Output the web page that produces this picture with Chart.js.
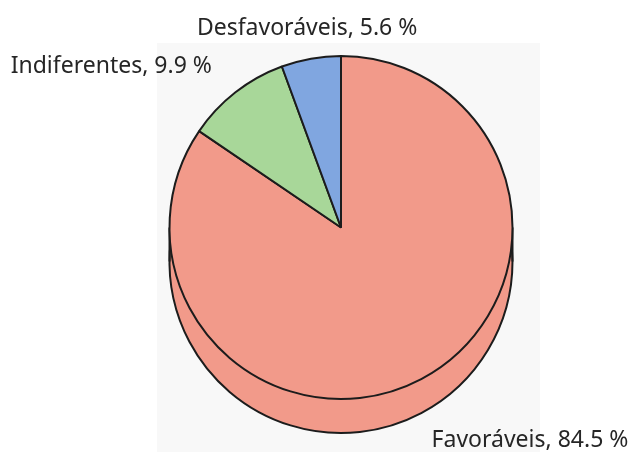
<!DOCTYPE html>
<html>
<head>
<meta charset="utf-8">
<script src="https://cdn.jsdelivr.net/npm/chart.js@4/dist/chart.umd.min.js"></script>
<style>
  html, body { margin: 0; padding: 0; background: #ffffff; }
  #wrap { width: 639px; height: 452px; position: relative; }
</style>
</head>
<body>
<div id="wrap"><canvas id="chart" width="639" height="452"></canvas></div>
<script>
// Opinion breakdown (percent of responses)
const categories = ['Favoráveis', 'Indiferentes', 'Desfavoráveis'];
const percentages = [84.5, 9.9, 5.6];
const sliceColors = ['#F29A8A', '#A8D799', '#80A6E0'];

const EDGE = '#1c1c1c';
const DEPTH = 34;          // thickness of the pie disc
const LABEL_GAP = 22;      // distance of labels from the rim
const LABEL_FONT = '23px "Noto Sans", sans-serif';

function fmt(v) { return v.toFixed(1) + ' %'; }

// light panel behind the plot
const panel = {
  id: 'panel',
  beforeDraw(chart) {
    const ctx = chart.ctx;
    ctx.save();
    ctx.fillStyle = '#ffffff';
    ctx.fillRect(0, 0, chart.width, chart.height);
    ctx.fillStyle = '#f8f8f8';
    ctx.fillRect(157, 43, 383, chart.height - 43);
    ctx.restore();
  }
};

// draws the side of the disc beneath the slices
const pieDepth = {
  id: 'pieDepth',
  beforeDatasetsDraw(chart) {
    const arcs = chart.getDatasetMeta(0).data;
    if (!arcs.length) return;
    const { x: cx, y: cy, outerRadius: r } = arcs[0];
    const ctx = chart.ctx;
    const norm = a => { const t = 2 * Math.PI; return ((a % t) + t) % t; };
    const covering = ang => arcs.find(a => {
      const s = norm(a.startAngle), span = a.endAngle - a.startAngle;
      return norm(ang - s) <= span;
    }) || arcs[0];

    ctx.save();
    // band between the two rims, filled per side
    ctx.fillStyle = covering(Math.PI).options.backgroundColor;
    ctx.fillRect(cx - r, cy, r, DEPTH);
    ctx.fillStyle = covering(0).options.backgroundColor;
    ctx.fillRect(cx, cy, r, DEPTH);
    // lower rim
    ctx.translate(0, DEPTH);
    arcs.forEach(a => a.draw(ctx));
    ctx.restore();

    ctx.save();
    ctx.strokeStyle = EDGE;
    ctx.lineWidth = 2;
    ctx.beginPath();
    ctx.moveTo(cx - r, cy); ctx.lineTo(cx - r, cy + DEPTH);
    ctx.moveTo(cx + r, cy); ctx.lineTo(cx + r, cy + DEPTH);
    ctx.stroke();
    ctx.restore();
  }
};

// "Category, value %" labels placed outside each slice
const sliceLabels = {
  id: 'sliceLabels',
  afterDatasetsDraw(chart) {
    const arcs = chart.getDatasetMeta(0).data;
    const ctx = chart.ctx;
    ctx.save();
    ctx.font = LABEL_FONT;
    ctx.fillStyle = '#262626';
    arcs.forEach((a, i) => {
      const mid = (a.startAngle + a.endAngle) / 2;
      const dist = a.outerRadius + LABEL_GAP;
      const dx = Math.cos(mid), dy = Math.sin(mid);
      let x = a.x + dx * dist;
      let y = a.y + dy * dist;
      if (Math.abs(dx) < 0.3) ctx.textAlign = 'center';
      else if (dx < 0) { ctx.textAlign = 'right'; x -= 10; }
      else ctx.textAlign = 'left';
      if (dy > 0) { ctx.textBaseline = 'top'; y += DEPTH - 4; }
      else { ctx.textBaseline = 'alphabetic'; y -= 2; }
      ctx.fillText(categories[i] + ', ' + fmt(percentages[i]), x, y);
    });
    ctx.restore();
  }
};

new Chart(document.getElementById('chart'), {
  type: 'pie',
  data: {
    labels: categories,
    datasets: [{
      data: percentages,
      backgroundColor: sliceColors,
      borderColor: EDGE,
      borderWidth: 2
    }]
  },
  options: {
    responsive: false,
    devicePixelRatio: 1,
    animation: false,
    layout: { padding: { top: 55, bottom: 52, left: 168, right: 125 } },
    plugins: {
      legend: { display: false },
      tooltip: { enabled: false }
    }
  },
  plugins: [panel, pieDepth, sliceLabels]
});
</script>
</body>
</html>
